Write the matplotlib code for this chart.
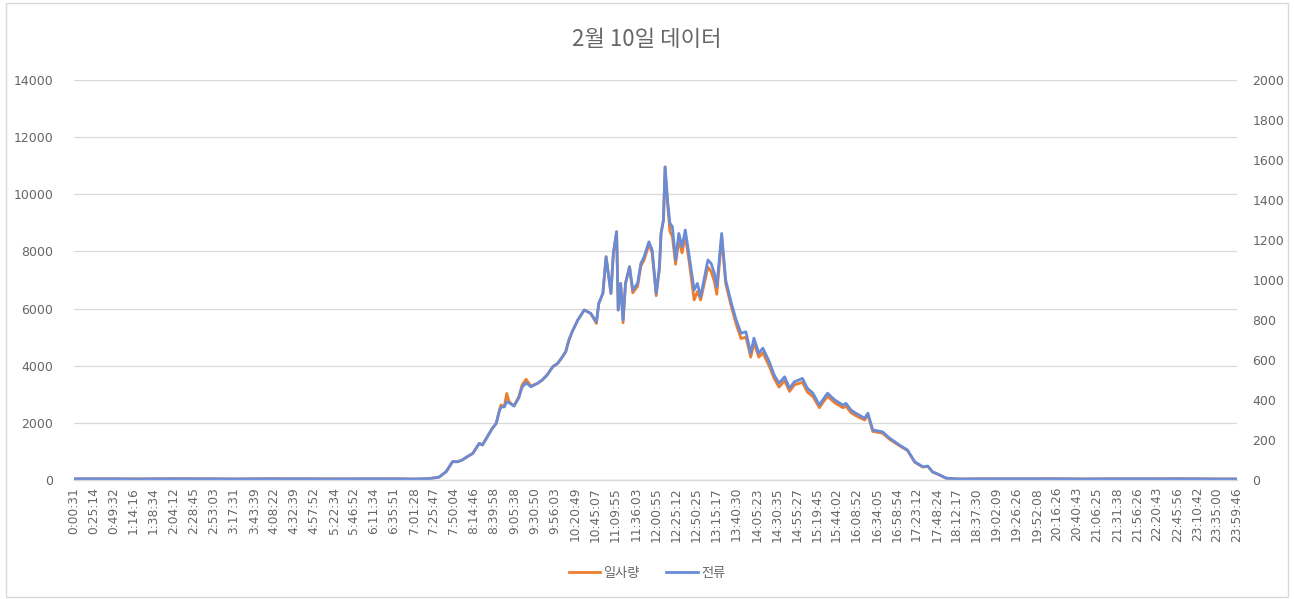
import matplotlib
matplotlib.use("Agg")
import matplotlib.pyplot as plt
from matplotlib.patches import Rectangle

plt.rcParams['font.family'] = ['Noto Sans CJK KR', 'DejaVu Sans']

title = "2월 10일 데이터"
series_names = ["일사량", "전류"]

# sample times of the logger (HH:MM or HH:MM:SS)
times = [
    "00:00:31", "00:40", "01:20", "02:00", "02:40", "03:20", "04:00", "04:40",
    "05:20", "06:00", "06:40", "07:01", "07:14", "07:20", "07:32", "07:41",
    "07:49", "07:55", "08:01", "08:07", "08:14", "08:22", "08:26", "08:32",
    "08:38", "08:43", "08:47", "08:49", "08:53", "08:56", "08:59", "09:05",
    "09:11", "09:15", "09:20", "09:26", "09:34", "09:40", "09:46", "09:53",
    "09:59", "10:05", "10:09", "10:13", "10:17", "10:24", "10:32", "10:40",
    "10:47", "10:50", "10:55", "10:59", "11:05", "11:08", "11:12", "11:14",
    "11:17", "11:20", "11:23", "11:28", "11:32", "11:38", "11:42", "11:46",
    "11:52", "11:56", "12:01", "12:05", "12:07", "12:10", "12:12", "12:15",
    "12:18", "12:21", "12:25", "12:29", "12:33", "12:37", "12:42", "12:48",
    "12:52", "12:56", "13:05", "13:09", "13:13", "13:16", "13:22", "13:27",
    "13:34", "13:40", "13:46", "13:52", "13:58", "14:02", "14:08", "14:13",
    "14:21", "14:27", "14:33", "14:40", "14:46", "14:52", "15:02", "15:08",
    "15:15", "15:23", "15:27", "15:33", "15:42", "15:52", "15:56", "16:02",
    "16:08", "16:19", "16:23", "16:29", "16:41", "16:50", "17:02", "17:12",
    "17:21", "17:31", "17:37", "17:43", "17:52", "18:00", "18:16", "18:50",
    "19:30", "20:10", "20:50", "21:30", "22:10", "22:50", "23:30", "23:59:46",
]

# irradiance (left axis)
irradiance = [
    35, 42, 38, 45, 40, 36, 44, 39,
    41, 37, 43, 30, 40, 50, 95, 290,
    640, 640, 700, 815, 930, 1280, 1225, 1515,
    1800, 1980, 2450, 2625, 2560, 3030, 2740, 2590,
    2915, 3325, 3525, 3290, 3380, 3500, 3675, 3965,
    4080, 4315, 4490, 4900, 5190, 5600, 5950, 5830,
    5480, 6185, 6530, 7815, 6530, 7935, 8690, 5950,
    6880, 5500, 6880, 7465, 6550, 6780, 7480, 7700,
    8250, 7950, 6450, 7400, 8630, 9100, 10950, 9700,
    8700, 8520, 7550, 8400, 7950, 8550, 7600, 6300,
    6600, 6300, 7450, 7300, 6950, 6500, 8500, 6880,
    6065, 5450, 4950, 5000, 4300, 4800, 4300, 4450,
    3980, 3550, 3250, 3480, 3100, 3330, 3420, 3080,
    2920, 2530, 2700, 2930, 2700, 2530, 2580, 2360,
    2250, 2100, 2280, 1700, 1640, 1420, 1200, 1030,
    620, 450, 480, 280, 170, 60, 35, 40,
    38, 44, 36, 42, 39, 45, 37, 35,
]

# current (right axis)
current = [
    6, 6, 5, 6, 6, 5, 6, 6,
    5, 6, 6, 5, 6, 7, 14, 41,
    92, 91, 100, 116, 133, 183, 175, 216,
    257, 283, 346, 364, 366, 391, 386, 370,
    411, 464, 486, 466, 483, 500, 525, 566,
    583, 616, 641, 700, 741, 800, 850, 833,
    791, 884, 933, 1116, 933, 1134, 1241, 850,
    983, 800, 983, 1066, 950, 983, 1083, 1116,
    1191, 1150, 933, 1066, 1233, 1300, 1566, 1400,
    1284, 1267, 1100, 1233, 1166, 1250, 1116, 950,
    983, 916, 1100, 1083, 1034, 966, 1233, 1000,
    884, 800, 734, 741, 634, 709, 634, 659,
    591, 525, 484, 516, 459, 491, 508, 459,
    434, 375, 400, 434, 400, 375, 383, 350,
    334, 309, 334, 250, 241, 209, 175, 150,
    91, 66, 70, 41, 25, 9, 5, 6,
    6, 6, 5, 6, 6, 6, 5, 5,
]

tick_labels = [
    "0:00:31", "0:25:14", "0:49:32", "1:14:16", "1:38:34", "2:04:12", "2:28:45",
    "2:53:03", "3:17:31", "3:43:39", "4:08:22", "4:32:39", "4:57:52", "5:22:34",
    "5:46:52", "6:11:34", "6:35:51", "7:01:28", "7:25:47", "7:50:04", "8:14:46",
    "8:39:58", "9:05:38", "9:30:50", "9:56:03", "10:20:49", "10:45:07", "11:09:55",
    "11:36:03", "12:00:55", "12:25:12", "12:50:25", "13:15:17", "13:40:30",
    "14:05:23", "14:30:35", "14:55:27", "15:19:45", "15:44:02", "16:08:52",
    "16:34:05", "16:58:54", "17:23:12", "17:48:24", "18:12:17", "18:37:30",
    "19:02:09", "19:26:26", "19:52:08", "20:16:26", "20:40:43", "21:06:25",
    "21:31:38", "21:56:26", "22:20:43", "22:45:56", "23:10:42", "23:35:00",
    "23:59:46",
]


def to_minutes(t):
    parts = [int(p) for p in t.split(":")]
    while len(parts) < 3:
        parts.append(0)
    h, m, s = parts
    return h * 60 + m + s / 60.0


x = [to_minutes(t) for t in times]
tick_pos = [to_minutes(t) for t in tick_labels]

TEXT = "#666666"
GRID = "#D9D9D9"
ORANGE = "#ED7D31"
BLUE = "#6A8BD6"

W, H = 1294, 599
fig = plt.figure(figsize=(W / 100, H / 100), dpi=100)
fig.patch.set_facecolor("white")

ax = fig.add_axes([74 / W, (H - 480) / H, (1237 - 74) / W, 400 / H])
ax2 = ax.twinx()

l1, = ax.plot(x, irradiance, color=ORANGE, lw=2.0, solid_joinstyle="round")
l2, = ax2.plot(x, current, color=BLUE, lw=2.0, solid_joinstyle="round")

ax.set_xlim(tick_pos[0], tick_pos[-1])
ax.set_ylim(0, 14000)
ax2.set_ylim(0, 2000)
ax.set_yticks(range(0, 14001, 2000))
ax2.set_yticks(range(0, 2001, 200))
ax.set_xticks(tick_pos)
ax.set_xticklabels(tick_labels, rotation=90, family="DejaVu Sans",
                   fontsize=8.8, color=TEXT)
ax.tick_params(axis="x", length=0, pad=5)
ax.tick_params(axis="y", length=0, pad=15, labelsize=9, labelcolor=TEXT)
ax2.tick_params(axis="y", length=0, pad=11, labelsize=9, labelcolor=TEXT)
for lab in ax.get_yticklabels() + ax2.get_yticklabels():
    lab.set_family("DejaVu Sans")

ax.grid(axis="y", color=GRID, lw=0.9)
ax.set_axisbelow(True)
for a in (ax, ax2):
    for side in ("top", "left", "right"):
        a.spines[side].set_visible(False)
    a.spines["bottom"].set_color(GRID)
    a.spines["bottom"].set_linewidth(0.9)
    a.patch.set_visible(False)

fig.text(0.5, 1 - 40 / H, title, ha="center", va="center",
         fontsize=16, color=TEXT)

fig.legend([l1, l2], series_names, loc="center",
           bbox_to_anchor=(0.5, 1 - 573 / H), ncol=2, frameon=False,
           fontsize=9.5, labelcolor=TEXT, handlelength=2.4,
           handletextpad=0.25, columnspacing=2.0)

fig.patches.append(Rectangle((6 / W, 2 / H), (1288 - 6) / W, (596 - 2) / H,
                             transform=fig.transFigure, fill=False,
                             edgecolor=GRID, lw=1.0))

fig.savefig("out.png", dpi=100)
